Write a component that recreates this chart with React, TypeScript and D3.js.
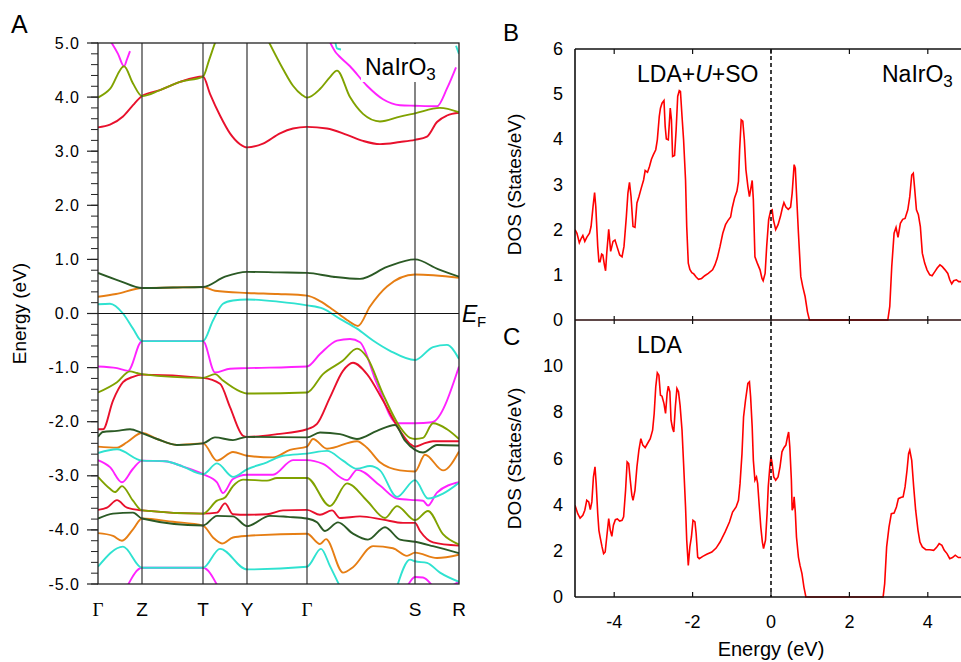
import React from 'react';
import * as d3 from 'd3';

type Pt = [number, number];

// colours of the band lines
const RED = '#e8102c';
const OLIVE = '#80a200';
const DKGREEN = '#2b5a25';
const ORANGE = '#e67e14';
const CYAN = '#2fe2d0';
const MAGENTA = '#ff22ff';

// k-path (path length in arbitrary units)
const kLabels = ['Γ', 'Z', 'T', 'Y', 'Γ', 'S', 'R'];
const kPoints = [0, 44, 105, 149, 209, 317, 361];
const energyTicks = [5, 4, 3, 2, 1, 0, -1, -2, -3, -4, -5];

// conduction bands
const cRed: Pt[] = [[0, 3.44], [12, 3.49], [25, 3.64], [35, 3.85], [44, 4.02], [62, 4.13], [82, 4.28], [105, 4.38], [112, 4.06], [122, 3.66], [132, 3.33], [142, 3.13], [149, 3.07], [165, 3.14], [182, 3.33], [195, 3.42], [209, 3.45], [229, 3.42], [249, 3.3], [265, 3.19], [282, 3.13], [302, 3.17], [317, 3.21], [329, 3.27], [339, 3.54], [349, 3.66], [361, 3.71]];
const cOliveA: Pt[] = [[0, 3.99], [12, 4.15], [26, 4.57], [35, 4.25], [44, 4.02], [62, 4.13], [82, 4.28], [105, 4.38], [111, 4.68], [117, 5.0], [118, 5.05]];
const cOliveB: Pt[] = [[170, 5.05], [185, 4.52], [195, 4.21], [204, 4.04], [209, 3.99], [222, 4.15], [232, 4.37], [239, 4.49], [252, 4.0], [265, 3.69], [282, 3.55], [302, 3.64], [317, 3.7], [342, 3.8], [361, 3.72]];
const cMagA: Pt[] = [[12, 5.05], [20, 4.8], [26, 4.57], [29, 4.7], [32, 4.85]];
const cMagB: Pt[] = [[231, 5.05], [238, 4.82], [241, 4.76], [252, 4.57], [269, 4.21], [285, 3.96], [302, 3.85], [317, 3.84], [339, 3.83], [349, 4.16], [358, 4.55]];
const cCyanA: Pt[] = [[237, 5.05], [239, 4.9], [243, 4.88]];
const cCyanB: Pt[] = [[358, 4.95], [361, 4.8]];

// valence bands
const vDkGreen1: Pt[] = [[0, 0.75], [22, 0.6], [44, 0.47], [75, 0.48], [105, 0.49], [127, 0.68], [149, 0.77], [180, 0.76], [209, 0.75], [235, 0.68], [262, 0.64], [289, 0.86], [317, 1.0], [340, 0.82], [361, 0.68]];
const vOrange1: Pt[] = [[0, 0.31], [18, 0.36], [44, 0.47], [75, 0.48], [105, 0.49], [117, 0.42], [149, 0.38], [180, 0.36], [209, 0.33], [222, 0.23], [235, 0.07], [249, -0.12], [260, -0.23], [272, 0.13], [289, 0.5], [317, 0.72], [361, 0.66]];
const vCyan1: Pt[] = [[0, 0.17], [12, 0.18], [25, 0.0], [35, -0.28], [44, -0.51], [105, -0.51], [115, -0.13], [125, 0.18], [135, 0.24], [149, 0.26], [180, 0.22], [209, 0.15], [225, 0.09], [242, -0.1], [259, -0.28], [275, -0.5], [292, -0.69], [317, -0.86], [335, -0.62], [349, -0.58], [361, -0.84]];
const vMag1: Pt[] = [[0, -0.98], [19, -1.01], [30, -1.06], [44, -0.51], [105, -0.51], [117, -1.09], [132, -1.02], [149, -1.01], [209, -0.98], [222, -0.75], [239, -0.5], [252, -0.47], [262, -0.53], [279, -1.3], [299, -2.03], [317, -2.03], [334, -2.01], [361, -0.98]];
const vOlive1: Pt[] = [[0, -1.46], [19, -1.27], [32, -1.07], [39, -1.1], [44, -1.12], [105, -1.19], [117, -1.12], [125, -1.24], [142, -1.44], [149, -1.48], [209, -1.46], [225, -1.12], [245, -0.87], [259, -0.65], [269, -0.81], [285, -1.49], [302, -2.1], [312, -2.3], [317, -2.32], [325, -2.3], [335, -2.03], [349, -2.14], [361, -2.32]];
const vRed1: Pt[] = [[0, -2.14], [5, -2.14], [15, -1.61], [25, -1.27], [35, -1.17], [44, -1.13], [105, -1.19], [122, -1.3], [132, -1.73], [145, -2.26], [149, -2.28], [179, -2.23], [209, -2.14], [219, -2.04], [232, -1.55], [245, -1.06], [255, -0.91], [269, -1.12], [285, -1.61], [302, -2.17], [312, -2.41], [317, -2.46], [325, -2.41], [335, -2.36], [361, -2.36]];
const vDkGreen2: Pt[] = [[0, -2.28], [5, -2.19], [19, -2.17], [32, -2.14], [44, -2.21], [59, -2.32], [79, -2.43], [105, -2.4], [117, -2.29], [135, -2.34], [149, -2.28], [209, -2.29], [222, -2.2], [242, -2.23], [259, -2.32], [279, -2.17], [297, -2.06], [307, -2.35], [317, -2.52], [325, -2.57], [339, -2.43], [361, -2.44]];
const vOrange2: Pt[] = [[0, -2.46], [19, -2.48], [29, -2.38], [44, -2.21], [59, -2.32], [79, -2.43], [105, -2.4], [119, -2.72], [135, -2.56], [149, -2.63], [175, -2.66], [192, -2.52], [209, -2.46], [215, -2.32], [229, -2.5], [259, -2.36], [269, -2.48], [282, -2.75], [302, -2.9], [317, -2.92], [327, -2.61], [345, -2.9], [361, -2.55]];
const vCyan2: Pt[] = [[0, -2.58], [19, -2.51], [44, -2.72], [67, -2.73], [85, -2.83], [105, -2.97], [119, -2.77], [135, -3.02], [149, -2.88], [169, -2.75], [185, -2.63], [209, -2.59], [229, -2.54], [245, -2.72], [259, -2.87], [272, -2.82], [282, -2.9], [299, -3.39], [317, -3.08], [330, -3.42], [345, -3.33], [361, -3.13]];
const vMag2: Pt[] = [[0, -2.71], [12, -2.84], [24, -3.12], [35, -2.87], [44, -2.72], [67, -2.73], [85, -2.83], [105, -2.97], [119, -3.12], [125, -3.32], [135, -3.06], [149, -2.98], [175, -2.98], [195, -2.71], [209, -2.71], [225, -2.78], [249, -3.08], [259, -2.89], [282, -3.18], [299, -3.42], [317, -3.45], [325, -3.46], [330, -3.55], [339, -3.31], [361, -3.12]];
const vOlive2: Pt[] = [[0, -3.02], [12, -3.24], [17, -3.3], [24, -3.19], [35, -3.46], [44, -3.64], [105, -3.7], [119, -3.46], [127, -3.4], [135, -3.19], [145, -3.07], [169, -3.09], [179, -3.04], [209, -3.04], [232, -3.56], [249, -3.14], [269, -3.46], [287, -3.78], [299, -3.56], [317, -3.82], [330, -3.65], [345, -4.08], [361, -4.27]];
const vRed2: Pt[] = [[0, -3.63], [9, -3.59], [19, -3.45], [29, -3.59], [44, -3.64], [105, -3.7], [119, -3.68], [127, -3.51], [135, -3.71], [149, -3.72], [169, -3.71], [185, -3.64], [209, -3.63], [222, -3.72], [234, -3.64], [242, -3.78], [262, -3.75], [285, -3.81], [305, -3.87], [317, -3.87], [322, -4.02], [335, -4.23], [361, -4.29]];
const vDkGreen3: Pt[] = [[0, -3.79], [15, -3.7], [35, -3.68], [44, -3.79], [105, -3.92], [119, -3.74], [135, -3.75], [149, -3.93], [172, -3.74], [190, -3.76], [209, -3.79], [219, -3.86], [227, -4.02], [240, -3.86], [255, -4.07], [270, -4.18], [287, -3.95], [302, -4.18], [317, -4.22], [335, -4.3], [361, -4.43]];
const vOrange3: Pt[] = [[0, -4.06], [15, -4.11], [24, -4.2], [35, -3.99], [44, -3.79], [75, -3.85], [105, -3.92], [115, -4.14], [124, -4.25], [135, -4.14], [149, -4.11], [209, -4.07], [222, -4.26], [228, -4.17], [245, -4.79], [255, -4.69], [275, -4.3], [295, -4.34], [309, -4.48], [317, -4.42], [339, -4.52], [361, -4.46]];
const vCyan3: Pt[] = [[0, -4.68], [25, -4.31], [44, -4.7], [105, -4.7], [122, -4.35], [149, -4.73], [209, -4.68], [223, -4.35], [232, -4.67], [242, -5.05]];
const vCyan4: Pt[] = [[299, -5.05], [312, -4.55], [317, -4.58], [329, -4.61], [342, -4.79], [361, -4.96]];
const vMag3: Pt[] = [[29, -5.05], [44, -4.7], [105, -4.7], [120, -5.05]];
const vMag4: Pt[] = [[310, -5.02], [317, -4.87], [325, -4.88], [335, -5.05]];
const vMag5: Pt[] = [[352, -5.05], [361, -4.96]];

// drawing order: lower ones first
const bandList: [Pt[], string][] = [
  [cRed, RED], [cMagA, MAGENTA], [cMagB, MAGENTA], [cCyanA, CYAN], [cCyanB, CYAN], [cOliveA, OLIVE], [cOliveB, OLIVE],
  [vOrange1, ORANGE], [vDkGreen1, DKGREEN], [vMag1, MAGENTA], [vCyan1, CYAN], [vRed1, RED], [vOlive1, OLIVE],
  [vOrange2, ORANGE], [vDkGreen2, DKGREEN], [vMag2, MAGENTA], [vCyan2, CYAN], [vRed2, RED], [vOlive2, OLIVE],
  [vOrange3, ORANGE], [vDkGreen3, DKGREEN], [vMag3, MAGENTA], [vMag4, MAGENTA], [vMag5, MAGENTA], [vCyan3, CYAN], [vCyan4, CYAN],
];

// DOS, LDA+U+SO
const dosEnergyB = [-5, -4.95, -4.89, -4.84, -4.8, -4.75, -4.7, -4.63, -4.59, -4.54, -4.5, -4.47, -4.42, -4.39, -4.36, -4.32, -4.29, -4.25, -4.22, -4.19, -4.14, -4.09, -4.03, -3.98, -3.93, -3.86, -3.8, -3.75, -3.69, -3.65, -3.61, -3.57, -3.52, -3.47, -3.42, -3.37, -3.31, -3.25, -3.21, -3.15, -3.1, -3.05, -3, -2.94, -2.9, -2.85, -2.82, -2.78, -2.73, -2.7, -2.67, -2.62, -2.57, -2.54, -2.51, -2.46, -2.42, -2.38, -2.34, -2.31, -2.27, -2.23, -2.18, -2.15, -2.11, -2.07, -2.02, -1.97, -1.91, -1.85, -1.77, -1.69, -1.6, -1.49, -1.43, -1.37, -1.3, -1.23, -1.16, -1.1, -1.03, -0.99, -0.93, -0.87, -0.83, -0.8, -0.76, -0.72, -0.68, -0.64, -0.59, -0.55, -0.52, -0.48, -0.45, -0.41, -0.35, -0.28, -0.23, -0.2, -0.15, -0.11, -0.06, -0.01, 0.03, 0.06, 0.12, 0.18, 0.24, 0.29, 0.33, 0.38, 0.44, 0.5, 0.54, 0.59, 0.62, 0.65, 0.7, 0.76, 0.81, 0.87, 0.93, 0.98, 2.98, 3.03, 3.08, 3.14, 3.19, 3.24, 3.3, 3.36, 3.42, 3.49, 3.54, 3.59, 3.63, 3.66, 3.71, 3.76, 3.81, 3.86, 3.92, 3.98, 4.05, 4.11, 4.18, 4.24, 4.31, 4.37, 4.44, 4.51, 4.56, 4.61, 4.66, 4.73, 4.79, 4.84, 5];
const dosB = [2.0, 1.92, 1.71, 1.81, 1.87, 1.74, 1.83, 1.92, 2.07, 2.51, 2.82, 2.51, 1.63, 1.29, 1.29, 1.46, 1.44, 1.22, 1.09, 1.48, 2.01, 1.52, 1.74, 1.77, 1.63, 1.44, 1.4, 1.63, 2.29, 2.81, 3.05, 2.73, 2.07, 2.05, 2.59, 2.73, 2.92, 3.1, 3.31, 3.27, 3.4, 3.56, 3.66, 3.77, 3.99, 4.51, 4.69, 4.8, 4.86, 4.29, 4.01, 3.99, 4.69, 4.43, 3.62, 3.64, 4.21, 4.95, 5.08, 5.06, 4.51, 3.99, 3.1, 2.07, 1.26, 1.12, 1.05, 1.02, 0.95, 0.9, 0.92, 0.98, 1.03, 1.11, 1.22, 1.37, 1.63, 1.92, 2.11, 2.2, 2.28, 2.48, 2.7, 2.85, 3.07, 3.77, 4.43, 4.4, 3.99, 3.33, 2.96, 2.73, 2.88, 3.09, 2.66, 1.4, 1.26, 1.11, 0.92, 0.87, 1.03, 1.63, 2.22, 2.42, 2.44, 2.22, 2.0, 2.11, 2.29, 2.48, 2.6, 2.5, 2.45, 2.5, 2.81, 3.44, 3.36, 2.81, 1.92, 0.96, 0.74, 0.52, 0.18, 0, 0, 0.3, 1.18, 1.92, 2.05, 1.83, 2.14, 2.23, 2.25, 2.44, 2.73, 3.21, 3.25, 2.96, 2.44, 2.33, 2.07, 1.48, 1.26, 1.11, 1.0, 0.98, 1.07, 1.15, 1.22, 1.18, 1.11, 1.03, 0.89, 0.8, 0.87, 0.89, 0.85, 0.85, 0.85];

// DOS, LDA
const dosEnergyC = [-5, -4.93, -4.87, -4.8, -4.75, -4.7, -4.65, -4.61, -4.57, -4.53, -4.49, -4.46, -4.42, -4.39, -4.36, -4.31, -4.27, -4.23, -4.19, -4.14, -4.1, -4.06, -4.02, -3.97, -3.92, -3.86, -3.8, -3.76, -3.71, -3.67, -3.63, -3.59, -3.55, -3.52, -3.47, -3.42, -3.37, -3.32, -3.27, -3.21, -3.15, -3.08, -3.02, -2.98, -2.94, -2.9, -2.86, -2.82, -2.78, -2.73, -2.69, -2.65, -2.62, -2.58, -2.55, -2.51, -2.48, -2.44, -2.4, -2.36, -2.32, -2.27, -2.23, -2.18, -2.15, -2.11, -2.07, -2.03, -1.99, -1.94, -1.91, -1.87, -1.83, -1.74, -1.64, -1.51, -1.4, -1.3, -1.17, -1.06, -0.98, -0.89, -0.83, -0.79, -0.74, -0.7, -0.65, -0.59, -0.55, -0.52, -0.48, -0.45, -0.41, -0.37, -0.34, -0.31, -0.26, -0.22, -0.19, -0.14, -0.1, -0.07, -0.03, 0, 0.03, 0.07, 0.12, 0.18, 0.23, 0.28, 0.33, 0.38, 0.42, 0.45, 0.48, 0.52, 0.54, 0.57, 0.59, 0.62, 0.65, 0.7, 0.74, 0.79, 0.84, 0.89, 2.86, 2.9, 2.95, 3.01, 3.07, 3.14, 3.2, 3.25, 3.31, 3.37, 3.42, 3.47, 3.51, 3.54, 3.59, 3.64, 3.69, 3.75, 3.8, 3.86, 3.95, 4.05, 4.15, 4.22, 4.29, 4.36, 4.42, 4.49, 4.56, 4.63, 4.7, 4.78, 4.84, 5];
const dosC = [3.97, 3.61, 3.42, 3.54, 3.76, 4.19, 4.12, 3.79, 4.12, 5.2, 5.64, 4.91, 3.61, 2.89, 2.6, 2.17, 1.88, 1.95, 2.6, 3.4, 2.89, 2.63, 3.11, 3.35, 3.38, 3.29, 3.32, 3.47, 4.62, 5.85, 5.78, 5.06, 4.41, 4.19, 4.62, 5.64, 6.36, 6.86, 6.58, 6.47, 6.65, 6.86, 7.23, 7.95, 9.1, 9.71, 9.61, 8.74, 8.7, 8.38, 7.95, 8.82, 9.13, 8.89, 7.66, 7.3, 7.15, 8.24, 9.03, 8.89, 8.31, 7.23, 5.78, 3.9, 2.46, 1.37, 2.17, 2.6, 3.32, 3.25, 2.75, 1.73, 1.66, 1.76, 1.85, 1.95, 2.12, 2.38, 2.82, 3.25, 3.68, 3.9, 4.19, 4.91, 6.21, 7.8, 8.53, 9.25, 9.32, 8.67, 7.37, 5.92, 5.06, 5.2, 4.91, 4.19, 3.03, 2.38, 2.1, 2.46, 3.61, 4.77, 5.64, 6.07, 5.78, 5.2, 5.06, 5.2, 5.64, 6.29, 6.47, 6.58, 6.94, 7.15, 6.5, 5.06, 3.76, 3.9, 4.34, 3.68, 2.6, 1.73, 1.37, 1.01, 0.43, 0, 0, 0.58, 2.17, 3.03, 3.61, 3.64, 3.9, 4.26, 4.31, 4.34, 4.77, 5.49, 6.21, 6.36, 5.92, 4.77, 3.76, 2.89, 2.38, 2.17, 2.05, 2.05, 2.02, 2.14, 2.31, 2.24, 2.02, 1.88, 1.66, 1.71, 1.81, 1.71, 1.71, 1.7];

const dosTicksB = [0, 1, 2, 3, 4, 5, 6];
const dosTicksC = [0, 2, 4, 6, 8, 10];
const energyTicksDos = [-4, -2, 0, 2, 4];

const FONT = '"Liberation Sans", Arial, sans-serif';

export default function App() {
  // band structure panel
  const bx = d3.scaleLinear().domain([0, 361]).range([98, 459]);
  const by = d3.scaleLinear().domain([-5, 5]).range([584, 43]);
  const bandLine = d3.line<Pt>().x(d => bx(d[0])).y(d => by(d[1])).curve(d3.curveMonotoneX);
  const minorTicks = d3.range(-50, 51, 2).map(v => v / 10);

  // dos panels
  const ex = d3.scaleLinear().domain([-5, 5]).range([575, 967]);
  const yB = d3.scaleLinear().domain([0, 6]).range([320, 49]);
  const yC = d3.scaleLinear().domain([0, 12]).range([597, 320]);
  const lineB = d3.line<number>().x((d, i) => ex(dosEnergyB[i])).y(d => yB(d));
  const lineC = d3.line<number>().x((d, i) => ex(dosEnergyC[i])).y(d => yC(d));

  return (
    <svg width={961} height={662} style={{ position: 'absolute', left: 0, top: 0, background: '#fff' }} fontFamily={FONT}>
      <defs>
        <clipPath id="bandClip"><rect x={98} y={43} width={361} height={541} /></clipPath>
        <clipPath id="clipB"><rect x={575} y={49} width={392} height={273} /></clipPath>
        <clipPath id="clipC"><rect x={575} y={320} width={392} height={279} /></clipPath>
      </defs>

      {/* ---- panel A ---- */}
      <text x={11} y={33} fontSize={25}>A</text>
      <g clipPath="url(#bandClip)">
        {bandList.map(([pts, col], i) => (
          <path key={i} d={bandLine(pts) || ''} fill="none" stroke={col} strokeWidth={1.9} />
        ))}
      </g>
      {kPoints.slice(1, -1).map((k, i) => (
        <line key={i} x1={bx(k)} x2={bx(k)} y1={43} y2={584} stroke="#333" strokeWidth={1.2} />
      ))}
      <line x1={88} x2={459} y1={by(0)} y2={by(0)} stroke="#111" strokeWidth={1.1} />
      <rect x={98} y={43} width={361} height={541} fill="none" stroke="#222" strokeWidth={1.3} />
      {minorTicks.map((v, i) => (
        <line key={i} x1={91} x2={98} y1={by(v)} y2={by(v)} stroke="#222" strokeWidth={1} />
      ))}
      {energyTicks.map(v => (
        <g key={v}>
          <line x1={87} x2={98} y1={by(v)} y2={by(v)} stroke="#222" strokeWidth={1.2} />
          <text x={80} y={by(v)} fontSize={16} letterSpacing={1} textAnchor="end" dominantBaseline="central">{v.toFixed(1)}</text>
        </g>
      ))}
      <text transform={`translate(26,${by(0)}) rotate(-90)`} fontSize={19} textAnchor="middle">Energy (eV)</text>
      {kLabels.map((l, i) => (
        <text key={i} x={bx(kPoints[i])} y={616} fontSize={19} textAnchor="middle"
          fontFamily={l === 'Γ' ? '"Liberation Serif", serif' : FONT}>{l}</text>
      ))}
      <rect x={361} y={44} width={88} height={38} fill="#fff" />
      <text x={365} y={75} fontSize={23}>NaIrO<tspan fontSize={17} dy={5}>3</tspan></text>
      <text x={462} y={322} fontSize={23} fontStyle="italic">E</text>
      <text x={477} y={327} fontSize={15}>F</text>

      {/* ---- panel B ---- */}
      <text x={503} y={41} fontSize={24}>B</text>
      <path d={lineB(dosB) || ''} fill="none" stroke="#ff0000" strokeWidth={1.6} clipPath="url(#clipB)" />
      <text x={637} y={82} fontSize={23}>LDA+<tspan fontStyle="italic">U</tspan>+SO</text>
      <text x={882} y={82} fontSize={23}>NaIrO<tspan fontSize={17} dy={5}>3</tspan></text>
      {dosTicksB.map(v => (
        <text key={v} x={563} y={yB(v)} fontSize={18} textAnchor="end" dominantBaseline="central">{v}</text>
      ))}
      <text transform={`translate(521,${yB(3)}) rotate(-90)`} fontSize={19} textAnchor="middle">DOS (States/eV)</text>

      {/* ---- panel C ---- */}
      <text x={503} y={345} fontSize={24}>C</text>
      <path d={lineC(dosC) || ''} fill="none" stroke="#ff0000" strokeWidth={1.6} clipPath="url(#clipC)" />
      <text x={637} y={353} fontSize={23}>LDA</text>
      {dosTicksC.map(v => (
        <text key={v} x={563} y={yC(v)} fontSize={18} textAnchor="end" dominantBaseline="central">{v}</text>
      ))}
      <text transform={`translate(521,${yC(6)}) rotate(-90)`} fontSize={19} textAnchor="middle">DOS (States/eV)</text>
      {energyTicksDos.map(v => (
        <text key={v} x={ex(v)} y={628} fontSize={18} textAnchor="middle">{v}</text>
      ))}
      <text x={ex(0)} y={656} fontSize={20} textAnchor="middle">Energy (eV)</text>

      {/* shared axes of B and C */}
      <line x1={ex(0)} x2={ex(0)} y1={49} y2={597} stroke="#000" strokeWidth={1.5} strokeDasharray="4,3" />
      <line x1={575} x2={961} y1={49} y2={49} stroke="#111" strokeWidth={1.4} />
      <line x1={575} x2={961} y1={320} y2={320} stroke="#2a0a0a" strokeWidth={1.6} />
      <line x1={575} x2={961} y1={597} y2={597} stroke="#111" strokeWidth={1.4} />
      <line x1={575} x2={575} y1={49} y2={597} stroke="#111" strokeWidth={1.6} />
      {energyTicksDos.map(v => (
        <g key={v}>
          <line x1={ex(v)} x2={ex(v)} y1={49} y2={54} stroke="#111" strokeWidth={1.2} />
          <line x1={ex(v)} x2={ex(v)} y1={316} y2={324} stroke="#111" strokeWidth={1.2} />
          <line x1={ex(v)} x2={ex(v)} y1={592} y2={597} stroke="#111" strokeWidth={1.2} />
        </g>
      ))}
    </svg>
  );
}
